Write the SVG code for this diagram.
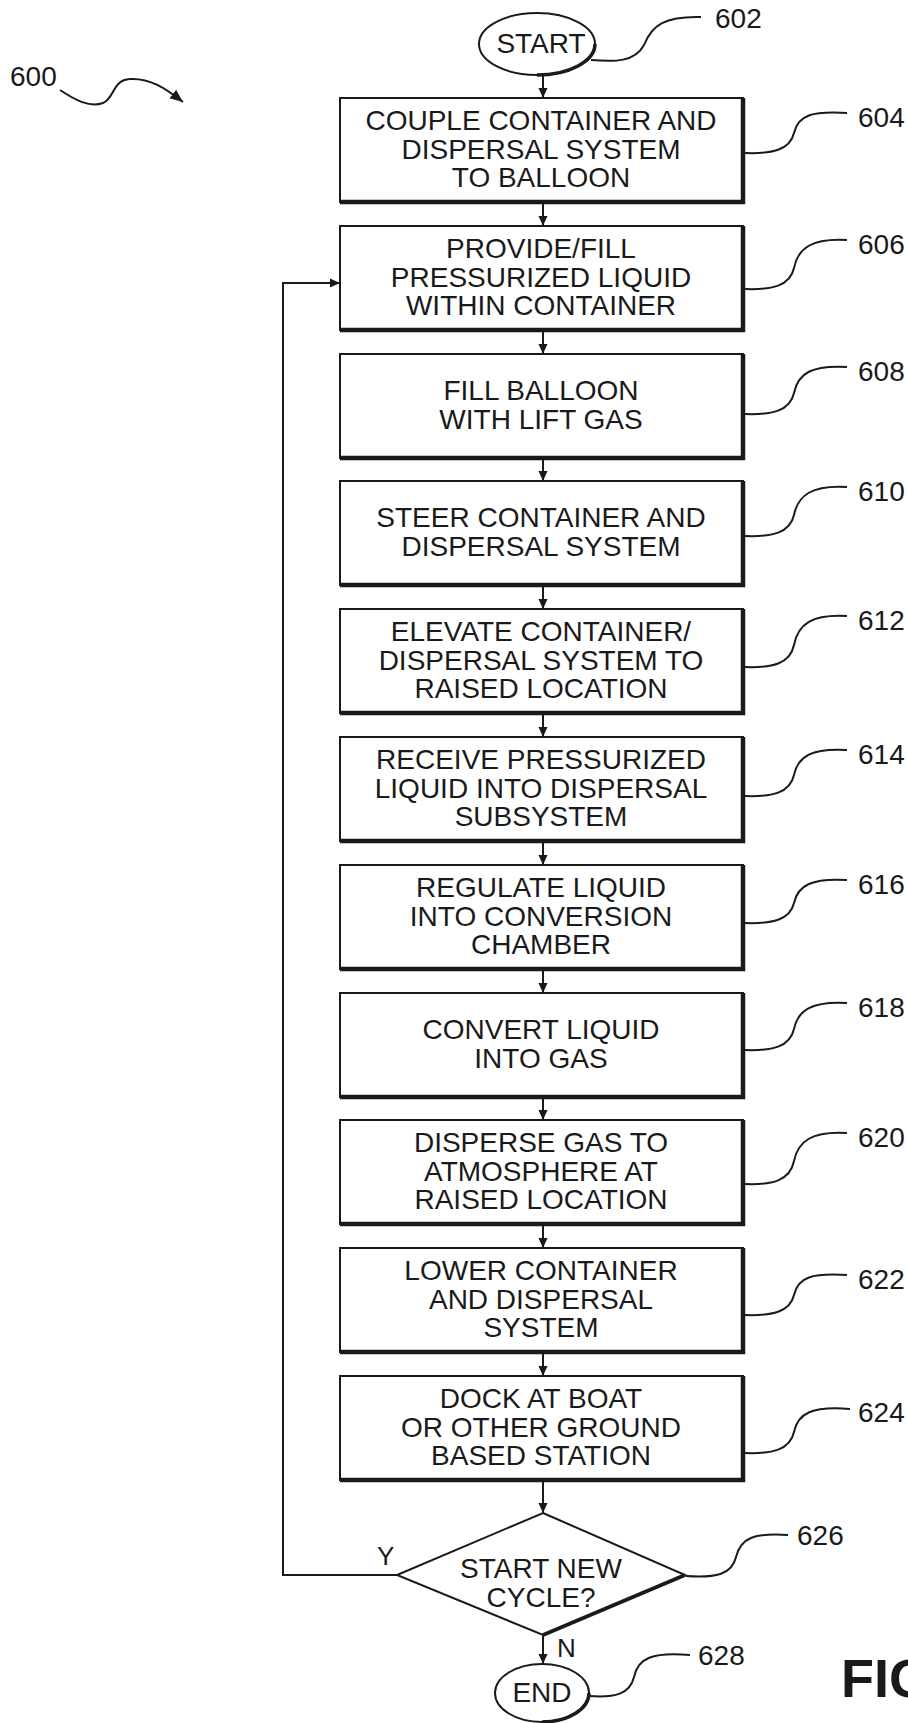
<svg xmlns="http://www.w3.org/2000/svg" width="908" height="1723" viewBox="0 0 908 1723">
<style>
.bx{fill:#fff;stroke:#1a1a1a;stroke-width:2}
.sh{fill:none;stroke:#1a1a1a;stroke-width:4.5;stroke-linejoin:miter}
.t{font-family:"Liberation Sans",Arial,sans-serif;font-size:28px;fill:#1a1a1a;text-anchor:middle}
.lb{font-family:"Liberation Sans",Arial,sans-serif;font-size:28px;fill:#1a1a1a}
.ld{fill:none;stroke:#1a1a1a;stroke-width:2}
.cn{fill:none;stroke:#1a1a1a;stroke-width:2}
.fig{font-family:"Liberation Sans",Arial,sans-serif;font-size:54px;font-weight:bold;fill:#1a1a1a}
</style>
<defs>
<marker id="ar" markerUnits="userSpaceOnUse" markerWidth="10" markerHeight="10" refX="10" refY="5" orient="auto">
<path d="M0,0.5 L10,5 L0,9.5 z" fill="#1a1a1a"/>
</marker>
<marker id="ar2" markerUnits="userSpaceOnUse" markerWidth="14" markerHeight="12" refX="13" refY="6" orient="auto">
<path d="M0,0.5 L13,6 L0,11.5 z" fill="#1a1a1a"/>
</marker>
</defs>

<g id="ref600">
<text class="lb" x="10" y="86">600</text>
<path class="ld" d="M60,90 C75,100 90,108 103,103 C115,98 112,80 130,79 C150,78 165,88 183,102" marker-end="url(#ar2)"/>
</g>

<g id="connectors">
<line class="cn" x1="543" y1="75" x2="543" y2="98" marker-end="url(#ar)"/>
<line class="cn" x1="543" y1="202" x2="543" y2="226" marker-end="url(#ar)"/>
<line class="cn" x1="543" y1="330" x2="543" y2="354" marker-end="url(#ar)"/>
<line class="cn" x1="543" y1="458" x2="543" y2="481" marker-end="url(#ar)"/>
<line class="cn" x1="543" y1="585" x2="543" y2="609" marker-end="url(#ar)"/>
<line class="cn" x1="543" y1="713" x2="543" y2="737" marker-end="url(#ar)"/>
<line class="cn" x1="543" y1="841" x2="543" y2="865" marker-end="url(#ar)"/>
<line class="cn" x1="543" y1="969" x2="543" y2="993" marker-end="url(#ar)"/>
<line class="cn" x1="543" y1="1097" x2="543" y2="1120" marker-end="url(#ar)"/>
<line class="cn" x1="543" y1="1224" x2="543" y2="1248" marker-end="url(#ar)"/>
<line class="cn" x1="543" y1="1352" x2="543" y2="1376" marker-end="url(#ar)"/>
<line class="cn" x1="543" y1="1480" x2="543" y2="1513" marker-end="url(#ar)"/>
<line class="cn" x1="543" y1="1635" x2="543" y2="1664" marker-end="url(#ar)"/>
<polyline class="cn" points="397,1575 283,1575 283,283 340,283" marker-end="url(#ar)"/>
<text class="lb" x="377" y="1565" style="font-size:26px">Y</text>
<text class="lb" x="557" y="1657" style="font-size:26px">N</text>
</g>

<g id="n602">
<ellipse cx="537" cy="44" rx="58" ry="31" class="bx"/>
<path class="sh" d="M595,44 A58,31 0 0 1 537,75" style="stroke-width:3.5"/>
<text class="t" x="541" y="53">START</text>
<path class="ld" d="M591,60 C615,62 635,62 644,45 C652,25 665,16 701,17"/>
<text class="lb" x="715" y="28">602</text>
</g>

<g id="n604">
<rect class="bx" x="340" y="98" width="403" height="104"/>
<polyline class="sh" points="743,98 743,202 340,202"/>
<text class="t" x="541" y="130">COUPLE CONTAINER AND</text>
<text class="t" x="541" y="158.5">DISPERSAL SYSTEM</text>
<text class="t" x="541" y="187">TO BALLOON</text>
<path class="ld" d="M745,153 C772,154 790,150 794,133 C798,115 812,111 847,113"/>
<text class="lb" x="858" y="127">604</text>
</g>

<g id="n606">
<rect class="bx" x="340" y="226" width="403" height="104"/>
<polyline class="sh" points="743,226 743,330 340,330"/>
<text class="t" x="541" y="258">PROVIDE/FILL</text>
<text class="t" x="541" y="286.5">PRESSURIZED LIQUID</text>
<text class="t" x="541" y="315">WITHIN CONTAINER</text>
<path class="ld" d="M745,289 C772,290 790,286 794,268 C798,248 812,238 847,240"/>
<text class="lb" x="858" y="254">606</text>
</g>

<g id="n608">
<rect class="bx" x="340" y="354" width="403" height="104"/>
<polyline class="sh" points="743,354 743,458 340,458"/>
<text class="t" x="541" y="400">FILL BALLOON</text>
<text class="t" x="541" y="428.5">WITH LIFT GAS</text>
<path class="ld" d="M745,414 C772,415 790,411 794,393 C798,373 812,365 847,367"/>
<text class="lb" x="858" y="381">608</text>
</g>

<g id="n610">
<rect class="bx" x="340" y="481" width="403" height="104"/>
<polyline class="sh" points="743,481 743,585 340,585"/>
<text class="t" x="541" y="527">STEER CONTAINER AND</text>
<text class="t" x="541" y="555.5">DISPERSAL SYSTEM</text>
<path class="ld" d="M745,536 C772,537 790,533 794,515 C798,495 812,485 847,487"/>
<text class="lb" x="858" y="501">610</text>
</g>

<g id="n612">
<rect class="bx" x="340" y="609" width="403" height="104"/>
<polyline class="sh" points="743,609 743,713 340,713"/>
<text class="t" x="541" y="641">ELEVATE CONTAINER/</text>
<text class="t" x="541" y="669.5">DISPERSAL SYSTEM TO</text>
<text class="t" x="541" y="698">RAISED LOCATION</text>
<path class="ld" d="M745,667 C772,668 790,664 794,645 C798,624 812,614 847,616"/>
<text class="lb" x="858" y="630">612</text>
</g>

<g id="n614">
<rect class="bx" x="340" y="737" width="403" height="104"/>
<polyline class="sh" points="743,737 743,841 340,841"/>
<text class="t" x="541" y="769">RECEIVE PRESSURIZED</text>
<text class="t" x="541" y="797.5">LIQUID INTO DISPERSAL</text>
<text class="t" x="541" y="826">SUBSYSTEM</text>
<path class="ld" d="M745,796 C772,797 790,793 794,775 C798,756 812,748 847,750"/>
<text class="lb" x="858" y="764">614</text>
</g>

<g id="n616">
<rect class="bx" x="340" y="865" width="403" height="104"/>
<polyline class="sh" points="743,865 743,969 340,969"/>
<text class="t" x="541" y="897">REGULATE LIQUID</text>
<text class="t" x="541" y="925.5">INTO CONVERSION</text>
<text class="t" x="541" y="954">CHAMBER</text>
<path class="ld" d="M745,923 C772,924 790,920 794,903 C798,885 812,878 847,880"/>
<text class="lb" x="858" y="894">616</text>
</g>

<g id="n618">
<rect class="bx" x="340" y="993" width="403" height="104"/>
<polyline class="sh" points="743,993 743,1097 340,1097"/>
<text class="t" x="541" y="1039">CONVERT LIQUID</text>
<text class="t" x="541" y="1067.5">INTO GAS</text>
<path class="ld" d="M745,1050 C772,1051 790,1047 794,1029 C798,1010 812,1001 847,1003"/>
<text class="lb" x="858" y="1017">618</text>
</g>

<g id="n620">
<rect class="bx" x="340" y="1120" width="403" height="104"/>
<polyline class="sh" points="743,1120 743,1224 340,1224"/>
<text class="t" x="541" y="1152">DISPERSE GAS TO</text>
<text class="t" x="541" y="1180.5">ATMOSPHERE AT</text>
<text class="t" x="541" y="1209">RAISED LOCATION</text>
<path class="ld" d="M745,1184 C772,1185 790,1181 794,1161 C798,1141 812,1131 847,1133"/>
<text class="lb" x="858" y="1147">620</text>
</g>

<g id="n622">
<rect class="bx" x="340" y="1248" width="403" height="104"/>
<polyline class="sh" points="743,1248 743,1352 340,1352"/>
<text class="t" x="541" y="1280">LOWER CONTAINER</text>
<text class="t" x="541" y="1308.5">AND DISPERSAL</text>
<text class="t" x="541" y="1337">SYSTEM</text>
<path class="ld" d="M745,1315 C772,1316 790,1312 794,1295 C798,1277 812,1273 847,1275"/>
<text class="lb" x="858" y="1289">622</text>
</g>

<g id="n624">
<rect class="bx" x="340" y="1376" width="403" height="104"/>
<polyline class="sh" points="743,1376 743,1480 340,1480"/>
<text class="t" x="541" y="1408">DOCK AT BOAT</text>
<text class="t" x="541" y="1436.5">OR OTHER GROUND</text>
<text class="t" x="541" y="1465">BASED STATION</text>
<path class="ld" d="M745,1453 C772,1454 790,1450 794,1432 C798,1413 812,1406 850,1409"/>
<text class="lb" x="858" y="1422">624</text>
</g>

<g id="n626">
<polygon class="bx" points="543,1513 685,1575 543,1635 397,1575"/>
<polyline class="sh" points="685,1575 543,1635" style="stroke-width:4"/>
<text class="t" x="541" y="1578">START NEW</text>
<text class="t" x="541" y="1607">CYCLE?</text>
<path class="ld" d="M686,1576 C715,1578 732,1575 736,1557 C741,1537 755,1533 788,1535"/>
<text class="lb" x="797" y="1545">626</text>
</g>

<g id="n628">
<ellipse cx="542" cy="1693" rx="47" ry="29" class="bx"/>
<path class="sh" d="M589,1693 A47,29 0 0 1 542,1722" style="stroke-width:3.5"/>
<text class="t" x="542" y="1702">END</text>
<path class="ld" d="M589,1696 C615,1698 630,1694 634,1677 C638,1658 652,1652 690,1655"/>
<text class="lb" x="698" y="1665">628</text>
</g>

<text class="fig" x="841" y="1697">FIG</text>
</svg>
